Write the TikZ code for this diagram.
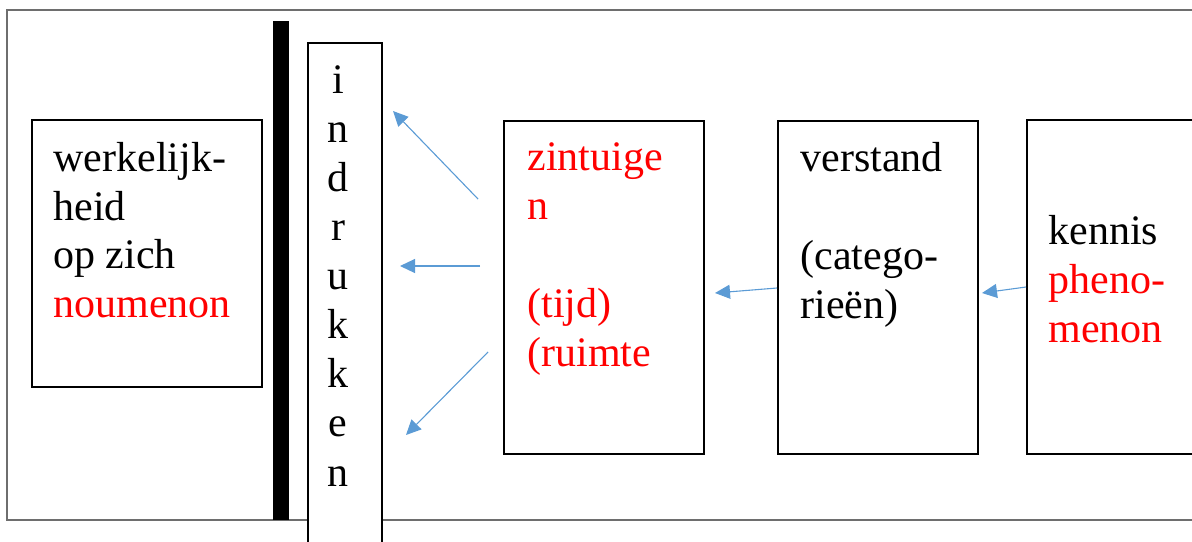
\documentclass[tikz,border=0pt]{standalone}
\usepackage{fontspec}
\setmainfont{Liberation Serif}
\usetikzlibrary{arrows.meta}
\definecolor{arrowblue}{HTML}{5B9BD5}
\definecolor{framegray}{HTML}{6E6E6E}
\begin{document}
\begin{tikzpicture}[x=0.5pt,y=-0.5pt,
  box/.style={draw=black,line width=0.9pt,fill=white,inner sep=0pt,outer sep=0pt,anchor=north west},
  txt/.style={anchor=base west,inner sep=0pt,font=\fontsize{21}{24.5}\selectfont},
  redtxt/.style={txt,text=red},
  letter/.style={anchor=base,inner sep=0pt,font=\fontsize{21}{24.5}\selectfont},
  arr/.style={draw=arrowblue,line width=0.55pt,-{Triangle[length=7.5pt,width=7pt]}}
]
\useasboundingbox (0,0) rectangle (1192,541);
\clip (0,0) rectangle (1192,541);
% outer frame
\draw[framegray,line width=0.75pt] (7,10) rectangle (1260,520);
% boxes
\node[box,minimum width=115pt,minimum height=133.5pt] (real) at (32,120) {};
\node[fill=black,inner sep=0pt,outer sep=0pt,anchor=north west,minimum width=8pt,minimum height=249.5pt] (bar) at (273,21) {};
\node[box,minimum width=37pt,minimum height=260pt] (indr) at (308,43) {};
\node[box,minimum width=100pt,minimum height=166.5pt] (zint) at (504,121) {};
\node[box,minimum width=100pt,minimum height=166.5pt] (verst) at (778,121) {};
\node[box,minimum width=110pt,minimum height=167pt] (kennis) at (1027,120) {};
% texts
\node[txt] (r1) at (53,171) {werkelijk-};
\node[txt] (r2) at (53,220) {heid};
\node[txt] (r3) at (53,268) {op zich};
\node[redtxt] (r4) at (53,317) {noumenon};
\node[letter] (i1) at (338,93) {i};
\node[letter] (i2) at (338,142) {n};
\node[letter] (i3) at (338,191) {d};
\node[letter] (i4) at (338,240) {r};
\node[letter] (i5) at (338,289) {u};
\node[letter] (i6) at (338,338) {k};
\node[letter] (i7) at (338,387) {k};
\node[letter] (i8) at (338,436) {e};
\node[letter] (i9) at (338,486) {n};
\node[redtxt] (z1) at (527,170) {zintuige};
\node[redtxt] (z2) at (527,219) {n};
\node[redtxt] (z3) at (527,317) {(tijd)};
\node[redtxt] (z4) at (527,366) {(ruimte};
\node[txt] (v1) at (800,171) {verstand};
\node[txt] (v2) at (800,269) {(catego-};
\node[txt] (v3) at (800,318) {rieën)};
\node[txt] (k1) at (1048,244) {kennis};
\node[redtxt] (k2) at (1048,293) {pheno-};
\node[redtxt] (k3) at (1048,342) {menon};
% arrows
\coordinate (a1s) at (478,199); \coordinate (a1e) at (393,111);
\coordinate (a2s) at (480,266); \coordinate (a2e) at (400,266);
\coordinate (a3s) at (488,352); \coordinate (a3e) at (406,435);
\coordinate (a4s) at (777,288); \coordinate (a4e) at (715,293);
\coordinate (a5s) at (1026,287); \coordinate (a5e) at (982,293);
\draw[arr] (a1s) -- (a1e);
\draw[arr] (a2s) -- (a2e);
\draw[arr] (a3s) -- (a3e);
\draw[arr] (a4s) -- (a4e);
\draw[arr] (a5s) -- (a5e);
\end{tikzpicture}
\end{document}
